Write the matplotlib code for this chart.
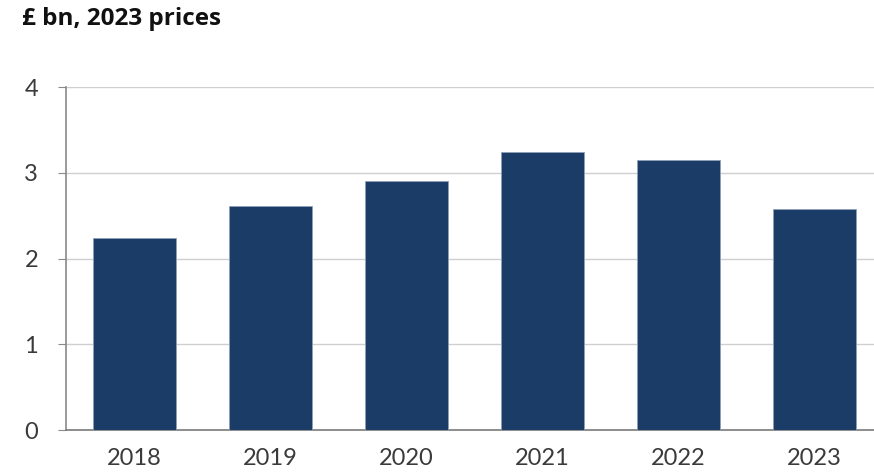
import matplotlib.pyplot as plt

years = ['2018', '2019', '2020', '2021', '2022', '2023']
values = [2.24, 2.61, 2.90, 3.24, 3.15, 2.58]
yticks = [0, 1, 2, 3, 4]

plt.rcParams['font.family'] = ['Lato', 'DejaVu Sans']

fig = plt.figure(figsize=(8.74, 4.73), dpi=100)
ax = fig.add_axes([66 / 874, 1 - 430 / 473, 1 - 66 / 874, (430 - 87) / 473])

x = range(len(years))
ax.bar(x, values, width=0.61, color='#1c3c68', edgecolor='#8fa0b8', linewidth=0.6, zorder=3)

ax.set_xlim(-0.5, 5.44)
ax.set_ylim(0, 4)
ax.set_yticks(yticks)
ax.set_xticks(list(x))
ax.set_xticklabels(years)

ax.yaxis.grid(True, color='#cfcfcf', linewidth=1, zorder=0)
for s in ['top', 'right']:
    ax.spines[s].set_visible(False)
ax.spines['left'].set_color('#8a8a8a')
ax.spines['bottom'].set_color('#7a7a7a')
ax.spines['left'].set_linewidth(1.2)
ax.spines['bottom'].set_linewidth(1.2)

ax.tick_params(axis='y', length=6, color='#8a8a8a', labelsize=17, labelcolor='#3a3a3a', pad=14)
ax.tick_params(axis='x', length=0, labelsize=17, labelcolor='#3a3a3a', pad=13)

fig.text(22 / 874, 1 - 19 / 473, '£ bn, 2023 prices', fontsize=17.5, fontweight='bold',
         family=['Open Sans', 'DejaVu Sans'], color='#111111', va='center', ha='left')

fig.savefig('out.png', dpi=100)
